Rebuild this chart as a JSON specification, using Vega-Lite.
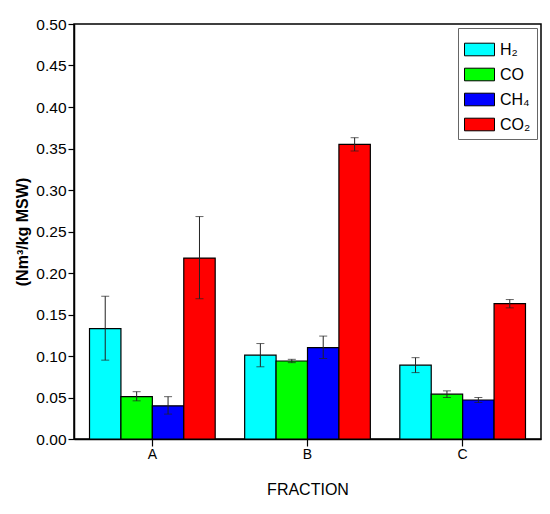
{
  "$schema": "https://vega.github.io/schema/vega-lite/v6.json",
  "autosize": {"type": "fit", "contains": "padding"},
  "width": 550,
  "height": 514,
  "padding": {"left": 14, "top": 17, "right": 9, "bottom": 17},
  "background": "white",
  "data": {
    "values": [
      {"fraction": "A", "gas": "H₂", "value": 0.133, "lo": 0.095, "hi": 0.172},
      {"fraction": "A", "gas": "CO", "value": 0.051, "lo": 0.046, "hi": 0.057},
      {"fraction": "A", "gas": "CH₄", "value": 0.040, "lo": 0.030, "hi": 0.051},
      {"fraction": "A", "gas": "CO₂", "value": 0.218, "lo": 0.169, "hi": 0.268},
      {"fraction": "B", "gas": "H₂", "value": 0.101, "lo": 0.087, "hi": 0.115},
      {"fraction": "B", "gas": "CO", "value": 0.094, "lo": 0.092, "hi": 0.096},
      {"fraction": "B", "gas": "CH₄", "value": 0.110, "lo": 0.097, "hi": 0.124},
      {"fraction": "B", "gas": "CO₂", "value": 0.355, "lo": 0.347, "hi": 0.363},
      {"fraction": "C", "gas": "H₂", "value": 0.089, "lo": 0.080, "hi": 0.098},
      {"fraction": "C", "gas": "CO", "value": 0.054, "lo": 0.050, "hi": 0.058},
      {"fraction": "C", "gas": "CH₄", "value": 0.047, "lo": 0.044, "hi": 0.050},
      {"fraction": "C", "gas": "CO₂", "value": 0.163, "lo": 0.158, "hi": 0.168}
    ]
  },
  "encoding": {
    "x": {
      "field": "fraction",
      "type": "nominal",
      "title": "FRACTION",
      "scale": {"paddingInner": 0.19, "paddingOuter": 0.1},
      "axis": {"labelAngle": 0, "tickSize": 7, "labelPadding": 1, "titlePadding": 20, "titleFontSize": 16}
    },
    "xOffset": {
      "field": "gas",
      "type": "nominal",
      "sort": ["H₂", "CO", "CH₄", "CO₂"],
      "scale": {"paddingInner": 0, "paddingOuter": 0}
    }
  },
  "layer": [
    {
      "mark": {"type": "bar", "stroke": "black", "strokeWidth": 1.2},
      "encoding": {
        "y": {
          "field": "value",
          "type": "quantitative",
          "title": "(Nm³/kg MSW)",
          "scale": {"domain": [0, 0.5], "nice": false},
          "axis": {"values": [0, 0.05, 0.1, 0.15, 0.2, 0.25, 0.3, 0.35, 0.4, 0.45, 0.5], "format": ".2f", "tickSize": 6, "labelPadding": 2, "labelFontSize": 15.5, "titlePadding": 5, "titleFontSize": 16, "titleFontWeight": "bold"}
        },
        "color": {
          "field": "gas",
          "type": "nominal",
          "scale": {"domain": ["H₂", "CO", "CH₄", "CO₂"], "range": ["#00ffff", "#00ff00", "#0000ff", "#ff0000"]},
          "legend": {
            "title": null,
            "orient": "top-right",
            "offset": 4,
            "fillColor": "white",
            "strokeColor": "#666666",
            "padding": 6,
            "rowPadding": 1,
            "symbolType": "M-1,-0.42H1V0.42H-1Z",
            "symbolSize": 900,
            "symbolStrokeColor": "black",
            "symbolStrokeWidth": 1,
            "symbolOpacity": 1,
            "labelFontSize": 16,
            "labelOffset": 5
          }
        }
      }
    },
    {
      "mark": {"type": "rule", "color": "#222222", "strokeWidth": 1},
      "encoding": {
        "y": {"field": "lo", "type": "quantitative"},
        "y2": {"field": "hi"}
      }
    },
    {
      "mark": {"type": "tick", "color": "#222222", "size": 8, "thickness": 1},
      "encoding": {"y": {"field": "lo", "type": "quantitative"}}
    },
    {
      "mark": {"type": "tick", "color": "#222222", "size": 8, "thickness": 1},
      "encoding": {"y": {"field": "hi", "type": "quantitative"}}
    }
  ],
  "config": {
    "font": "Liberation Sans",
    "view": {"stroke": "black", "strokeWidth": 1.5},
    "axis": {
      "grid": false,
      "domainColor": "black",
      "domainWidth": 1.5,
      "tickColor": "black",
      "tickWidth": 1.2,
      "labelColor": "black",
      "labelFontSize": 14,
      "labelFont": "Liberation Sans",
      "titleColor": "black",
      "titleFont": "Liberation Sans",
      "titleFontWeight": "normal"
    },
    "legend": {"labelFont": "Liberation Sans", "labelColor": "black"}
  }
}
